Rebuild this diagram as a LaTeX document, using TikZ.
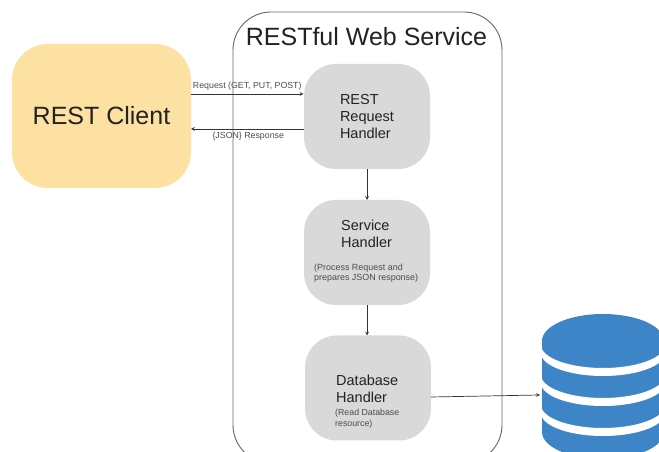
\documentclass[tikz,border=0pt]{standalone}
\usepackage{fontspec}
\setmainfont{Liberation Sans}
\definecolor{clientfill}{HTML}{FDE1A3}
\definecolor{boxfill}{HTML}{D9D9D9}
\definecolor{dbfill}{HTML}{3D85C6}
\definecolor{inktext}{HTML}{222222}
\begin{document}
\begin{tikzpicture}[x=1pt, y=1pt, >=stealth, text=inktext]
            \tikzstyle{handler} = [rectangle, fill=boxfill, rounded corners=32pt, minimum width=126pt, minimum height=105pt, inner sep=0pt, outer sep=0pt]
            \tikzstyle{heading} = [font=\fontsize{14.5}{17}\selectfont, align=left, inner sep=0pt]
            \tikzstyle{note} = [font=\fontsize{8.95}{10.5}\selectfont, align=left, inner sep=0pt, anchor=west, text=black!70]
            \tikzstyle{tag} = [font=\fontsize{8.8}{10}\selectfont, inner sep=0pt, text=black!70]
            \tikzstyle{link} = [->, draw=black!80, line width=0.7pt]

            \useasboundingbox (0,0) rectangle (659,452);
            \clip (0,0) rectangle (659,452);

            % Service frame
            \node[draw=black!60, line width=0.9pt, rounded corners=38pt, minimum width=269pt, minimum height=451pt, inner sep=0pt, outer sep=0pt] (frame) at (367.5,214.5) {};
            \node[font=\fontsize{25}{30}\selectfont, inner sep=0pt] (frametitle) at (366.5,415) {RESTful Web Service};

            % Client
            \node[rectangle, fill=clientfill, rounded corners=36pt, minimum width=179pt, minimum height=144pt, inner sep=0pt, outer sep=0pt, font=\fontsize{25}{30}\selectfont] (client) at (101.5,336) {REST Client};

            % Handlers
            \node[handler, heading] (rest) at (367,335.5) {REST\\Request\\Handler};
            \node[handler] (service) at (367,199.5) {};
            \node[handler] (dbhandler) at (368,64) {};
            \node[heading, anchor=west] (servicetitle) at (341,218.5) {Service\\Handler};
            \node[note] (servicenote) at (314,179) {(Process Request and\\prepares JSON response)};
            \node[heading, anchor=west] (dbtitle) at (336,63.5) {Database\\Handler};
            \node[note, font=\fontsize{8.8}{11}\selectfont] (dbnote) at (335,33.5) {(Read Database\\resource)};

            % Database
            \fill[dbfill] (542,111) arc (180:0:61 and 27) -- (664,20) arc (0:-180:61 and 27) -- cycle;
            \foreach \ytop/\ybot in {107/99,77/69,47/39} {
                \fill[white] (541,\ytop) arc (180:360:62 and 23) -- (665,\ybot) arc (360:180:62 and 23) -- cycle;
            }
            \coordinate (db) at (540,57);

            % Edges
            \coordinate (reqin) at (303.5,358);
            \coordinate (respout) at (303.5,323);
            \coordinate (dbout) at (431,55);
            \draw[link] (client.east |- reqin) -- node[tag, above=3pt] (reqlabel) {Request (GET, PUT, POST)} (reqin);
            \draw[link] (respout) -- node[tag, below=3pt, xshift=1pt] (resplabel) {\{JSON\} Response} (client.east |- respout);
            \draw[link] (rest.south) -- (service.north);
            \draw[link] (service.south) -- (service.south |- dbhandler.north);
            \draw[link] (dbout) -- (db);

        \end{tikzpicture}
\end{document}
